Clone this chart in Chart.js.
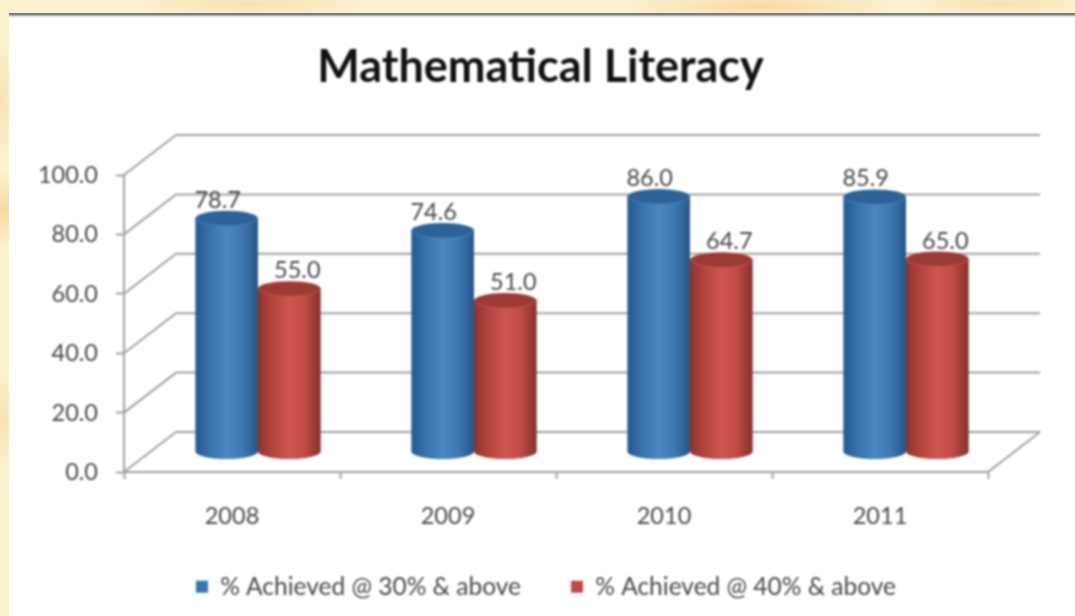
<!DOCTYPE html>
<html>
<head>
<meta charset="utf-8">
<title>Mathematical Literacy</title>
<script src="https://cdn.jsdelivr.net/npm/chart.js@4"></script>
<style>
  html, body { margin: 0; padding: 0; }
  body {
    position: relative; width: 1075px; height: 616px; overflow: hidden;
    background-color: #fcf2cf;
    background-image:
      radial-gradient(ellipse 60px 40px at 4px 210px, #f9d8a0, transparent),
      radial-gradient(ellipse 30px 60px at 2px 100px, #f8e3b6, transparent),
      radial-gradient(ellipse 30px 50px at 4px 420px, #f9e2b2, transparent),
      radial-gradient(ellipse 120px 14px at 250px 4px, #fae0b0, transparent),
      radial-gradient(ellipse 140px 14px at 760px 6px, #f8d9a2, transparent),
      radial-gradient(ellipse 90px 12px at 1000px 4px, #fadfae, transparent);
  }
  #panel {
    position: absolute; left: 9px; top: 13px; right: 0; bottom: 0;
    background: #fff;
    background-image: linear-gradient(#6f6f6f 0, #8a8a8a 2px, #d8d8d8 3px, #fff 5px);
    background-repeat: no-repeat;
    background-size: 100% 6px;
  }
  #chart { position: absolute; left: 0; top: 0; filter: blur(0.8px); }
</style>
</head>
<body>
<div id="panel"></div>
<canvas id="chart" width="1075" height="616"></canvas>
<script>
const years = ['2008', '2009', '2010', '2011'];
const seriesNames = ['% Achieved @ 30% & above', '% Achieved @ 40% & above'];
const achieved30 = [78.7, 74.6, 86.0, 85.9];
const achieved40 = [55.0, 51.0, 64.7, 65.0];

// ── 3D look ───────────────────────────────────────
const DEPTH_X = 52, DEPTH_Y = -40;
const TEXT = '#484848', GRID = '#a2a2a2';
const LOOK = [
  { stops: ['#23588f', '#3a74ae', '#4b87c2', '#3f78b2', '#24568a'], top: '#2c6298', rim: '#4a80b6', labelDx: -9 },
  { stops: ['#8e332f', '#b5463f', '#cf5650', '#c04a44', '#85302b'], top: '#9c3a34', rim: '#c2544c', labelDx: 8 },
];

function cylinder(ctx, bar, look) {
  const cx = bar.x + DEPTH_X / 2, w = bar.width, rx = w / 2, ry = 7.5;
  const top = bar.y + DEPTH_Y / 2, bottom = bar.base + DEPTH_Y / 2;
  const grad = ctx.createLinearGradient(cx - rx, 0, cx + rx, 0);
  look.stops.forEach((c, i) => grad.addColorStop(i / (look.stops.length - 1), c));

  ctx.beginPath();
  ctx.moveTo(cx - rx, top);
  ctx.lineTo(cx - rx, bottom);
  ctx.ellipse(cx, bottom, rx, ry, 0, Math.PI, 0, true);
  ctx.lineTo(cx + rx, top);
  ctx.closePath();
  ctx.fillStyle = grad;
  ctx.fill();

  ctx.beginPath();
  ctx.ellipse(cx, top, rx, ry, 0, 0, Math.PI * 2);
  ctx.fillStyle = look.top;
  ctx.fill();
  ctx.strokeStyle = look.rim;
  ctx.lineWidth = 1;
  ctx.beginPath();
  ctx.ellipse(cx, top, rx - 0.5, ry, 0, 0.15, Math.PI - 0.15);
  ctx.stroke();
}

const frame3d = {
  id: 'frame3d',
  afterLayout(chart) {
    // title and legend sit centred on the slide, not on the plot
    chart.titleBlock.left = 0;  chart.titleBlock.right = 1081;
    chart.legend.left = 0;      chart.legend.right = 1092;
  },
  beforeDatasetsDraw(chart) {
    const { ctx, chartArea: a, scales: { y } } = chart;
    ctx.save();
    ctx.strokeStyle = GRID;
    ctx.lineWidth = 2;
    y.ticks.forEach(t => {
      const py = y.getPixelForValue(t.value);
      ctx.beginPath();
      ctx.moveTo(a.left, py);
      ctx.lineTo(a.left + DEPTH_X, py + DEPTH_Y);
      ctx.lineTo(a.right + DEPTH_X, py + DEPTH_Y);
      ctx.stroke();
    });
    ctx.beginPath();
    ctx.moveTo(a.right, a.bottom);
    ctx.lineTo(a.right + DEPTH_X, a.bottom + DEPTH_Y);
    ctx.stroke();

    // 막대: category by category so red overlaps blue
    const metas = chart.data.datasets.map((_, i) => chart.getDatasetMeta(i));
    years.forEach((_, k) => {
      metas.forEach((m, i) => cylinder(ctx, m.data[k], LOOK[i]));
    });

    // value labels
    ctx.font = '23.5px Lato';
    ctx.fillStyle = TEXT;
    ctx.textAlign = 'center';
    ctx.textBaseline = 'middle';
    metas.forEach((m, i) => {
      m.data.forEach((bar, k) => {
        const v = chart.data.datasets[i].data[k];
        ctx.fillText(v.toFixed(1), bar.x + DEPTH_X / 2 + LOOK[i].labelDx, bar.y + DEPTH_Y / 2 - 18);
      });
    });
    ctx.restore();
    return false;
  },
};

new Chart(document.getElementById('chart'), {
  type: 'bar',
  plugins: [frame3d],
  data: {
    labels: years,
    datasets: [
      { label: seriesNames[0], data: achieved30, backgroundColor: '#3a74ae' },
      { label: seriesNames[1], data: achieved40, backgroundColor: '#bf4a44' },
    ],
  },
  options: {
    responsive: false,
    animation: false,
    layout: { padding: { left: 0, right: 87, top: 0, bottom: 7 } },
    datasets: { bar: { categoryPercentage: 0.58, barPercentage: 1 } },
    plugins: {
      tooltip: { enabled: false },
      title: {
        display: true,
        text: 'Mathematical Literacy',
        color: '#111',
        font: { family: 'Lato', size: 45, weight: 'bold', lineHeight: 1.2 },
        padding: { top: 40, bottom: 81 },
      },
      legend: {
        position: 'bottom',
        labels: {
          color: TEXT,
          font: { family: 'Lato', size: 24.5 },
          boxWidth: 12,
          boxHeight: 12,
          padding: 50,
        },
      },
    },
    scales: {
      x: {
        afterFit(s) { s.height = 52.5; },
        grid: { drawOnChartArea: false, color: GRID, tickLength: 7, tickWidth: 2 },
        border: { color: GRID, width: 2 },
        ticks: { color: TEXT, font: { family: 'Lato', size: 23.5 }, padding: 23 },
      },
      y: {
        min: 0,
        max: 100,
        afterFit(s) { s.width = 124; },
        grid: { drawOnChartArea: false, color: GRID, tickLength: 8, tickWidth: 2 },
        border: { color: GRID, width: 2 },
        ticks: {
          stepSize: 20,
          color: TEXT,
          font: { family: 'Lato', size: 23.5 },
          padding: 18,
          labelOffset: 0.5,
          callback: v => v.toFixed(1),
        },
      },
    },
  },
});
</script>
</body>
</html>
